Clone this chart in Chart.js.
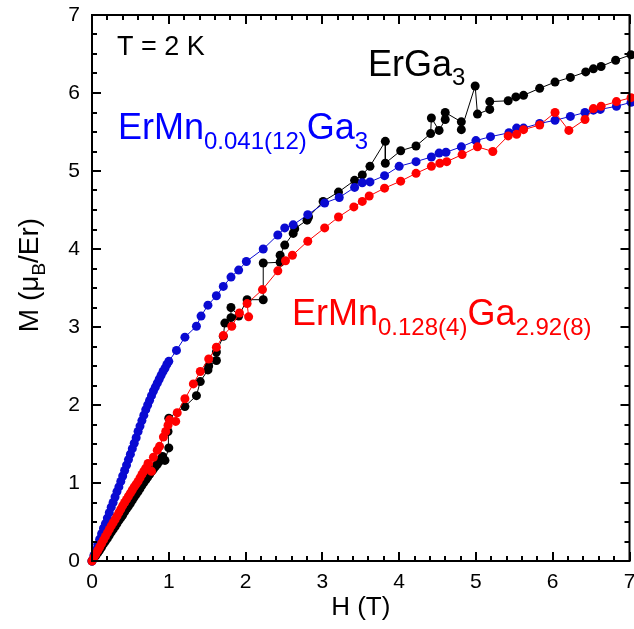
<!DOCTYPE html>
<html>
<head>
<meta charset="utf-8">
<script src="https://cdn.jsdelivr.net/npm/chart.js@4.4.1/dist/chart.umd.min.js"></script>
<style>
  html, body { margin: 0; padding: 0; background: #fff; }
  #wrap { width: 634px; height: 629px; }
</style>
</head>
<body>
<div id="wrap"><canvas id="chart" width="634" height="629"></canvas></div>
<script>
// Valeurs : H (T) et M (µB/Er) à T = 2 K
const blueH = [0,0.025,0.05,0.075,0.1,0.125,0.15,0.175,0.2,0.225,0.25,0.275,0.3,0.325,0.35,0.375,0.4,0.425,0.45,0.475,0.5,0.525,0.55,0.575,0.6,0.625,0.65,0.675,0.7,0.725,0.75,0.775,0.8,0.825,0.85,0.875,0.9,0.925,0.95,0.975,1.0,
  1.1,1.21,1.36,1.42,1.51,1.62,1.71,1.81,1.91,2.01,2.23,2.42,2.51,2.62,2.81,3.03,3.22,3.42,3.52,3.62,3.81,4.0,4.22,4.42,4.52,4.61,4.81,5.0,5.19,5.43,5.53,5.62,5.83,6.03,6.23,6.42,6.53,6.62,6.83,7.02];
const blueM = [0,0.07,0.14,0.21,0.28,0.35,0.42,0.48,0.55,0.62,0.69,0.75,0.82,0.89,0.95,1.02,1.09,1.16,1.23,1.30,1.37,1.44,1.51,1.58,1.66,1.73,1.80,1.87,1.94,2.00,2.06,2.12,2.18,2.23,2.28,2.33,2.38,2.43,2.47,2.52,2.56,
  2.70,2.87,3.01,3.14,3.28,3.40,3.52,3.64,3.73,3.84,4.00,4.18,4.27,4.31,4.44,4.59,4.66,4.79,4.85,4.86,4.94,5.06,5.12,5.18,5.23,5.24,5.31,5.39,5.44,5.49,5.55,5.55,5.61,5.65,5.70,5.75,5.78,5.79,5.83,5.88];

const blackH = [0,0.025,0.05,0.075,0.1,0.125,0.15,0.175,0.2,0.225,0.25,0.275,0.3,0.325,0.35,0.375,0.4,0.425,0.45,0.475,0.5,0.525,0.55,0.575,0.6,0.625,0.65,0.675,0.7,0.725,0.75,0.775,0.8,0.825,0.85,0.875,0.9,
  0.92,0.95,1.0,0.99,1.0,
  1.21,1.36,1.41,1.51,1.52,1.62,1.62,1.71,1.73,1.81,1.81,1.91,2.02,2.23,2.23,2.45,2.45,2.51,2.62,2.64,2.80,2.82,
  3.01,3.21,3.42,3.52,3.62,3.82,3.82,4.02,4.22,4.41,4.42,4.52,4.60,4.60,4.81,4.81,4.99,5.02,5.18,5.18,5.42,5.52,5.62,5.83,6.03,6.23,6.43,6.53,6.63,6.82,7.02];
const blackM = [0,0.035,0.07,0.105,0.14,0.18,0.22,0.255,0.29,0.33,0.37,0.405,0.44,0.48,0.52,0.555,0.59,0.63,0.67,0.705,0.74,0.78,0.82,0.855,0.89,0.93,0.97,1.005,1.04,1.075,1.11,1.145,1.18,1.21,1.24,1.275,1.31,
  1.34,1.29,1.45,1.66,1.83,
  1.98,2.12,2.30,2.45,2.50,2.57,2.68,2.88,3.05,3.12,3.25,3.14,3.35,3.35,3.82,3.83,3.92,4.05,4.20,4.26,4.37,4.41,
  4.61,4.73,4.88,4.95,5.06,5.38,5.10,5.26,5.32,5.48,5.68,5.52,5.66,5.75,5.63,5.53,6.09,5.73,5.79,5.89,5.90,5.95,5.97,6.06,6.14,6.20,6.27,6.31,6.34,6.42,6.49];

const redH = [0,0.025,0.05,0.075,0.1,0.125,0.15,0.175,0.2,0.225,0.25,0.275,0.3,0.325,0.35,0.375,0.4,0.425,0.45,0.475,0.5,0.525,0.55,0.575,0.6,0.625,0.65,0.675,0.7,
  0.73,0.775,0.8,0.85,0.88,0.93,0.96,0.99,1.01,1.09,1.11,
  1.21,1.32,1.41,1.52,1.62,1.71,1.82,1.92,2.04,2.02,2.22,2.42,2.52,2.61,2.81,3.03,3.21,3.41,3.52,3.61,3.81,
  4.02,4.22,4.42,4.53,4.62,4.82,5.02,5.22,5.42,5.53,5.62,5.83,6.03,6.21,6.42,6.53,6.63,6.83,7.02];
const redM = [0,0.045,0.09,0.135,0.18,0.225,0.27,0.315,0.36,0.405,0.45,0.49,0.53,0.575,0.62,0.665,0.71,0.75,0.79,0.83,0.87,0.91,0.95,0.985,1.02,1.065,1.11,1.15,1.19,
  1.25,1.15,1.33,1.42,1.47,1.59,1.66,1.74,1.81,1.79,1.90,
  2.08,2.27,2.43,2.59,2.74,2.89,3.01,3.18,3.13,3.30,3.48,3.72,3.85,3.92,4.10,4.27,4.41,4.54,4.61,4.68,4.78,
  4.87,4.97,5.06,5.10,5.12,5.21,5.31,5.25,5.45,5.47,5.53,5.59,5.75,5.52,5.66,5.80,5.83,5.89,5.94];

const xTicks = [0, 1, 2, 3, 4, 5, 6, 7];
const yTicks = [0, 1, 2, 3, 4, 5, 6, 7];
const xMinorPerMajor = 5;   // pas 0.2 T
const yMinorPerMajor = 4;   // pas 0.25

const FONT = '"Liberation Sans", Arial, sans-serif';
const toXY = (hs, ms) => hs.map((h, i) => ({ x: h, y: ms[i] }));

function series(label, hs, ms, color, order) {
  return {
    label, data: toXY(hs, ms), order,
    borderColor: color, borderWidth: 1,
    pointRadius: 4.5, pointHoverRadius: 4.5,
    pointBackgroundColor: color, pointBorderWidth: 0,
    tension: 0, fill: false, clip: false,
  };
}

// texte avec indices (segments [texte, indice?])
function drawRich(ctx, x, y, parts, size, subSize, subDrop, color) {
  ctx.fillStyle = color;
  ctx.textBaseline = 'alphabetic';
  ctx.textAlign = 'left';
  parts.forEach(([t, sub]) => {
    ctx.font = (sub ? subSize : size) + 'px ' + FONT;
    ctx.fillText(t, x, sub ? y + subDrop : y);
    x += ctx.measureText(t).width;
  });
}

const framePlugin = {
  id: 'frame',
  afterDatasetsDraw(chart) {
    const { ctx, chartArea: a, scales: { x, y } } = chart;
    ctx.save();
    ctx.strokeStyle = '#000';
    ctx.lineWidth = 2;
    ctx.strokeRect(a.left, a.top, a.right - a.left, a.bottom - a.top);
    ctx.beginPath();
    for (let i = 0; i < xTicks.length; i++) {
      for (let k = 0; k < xMinorPerMajor; k++) {
        if (i === xTicks.length - 1 && k > 0) break;
        const v = xTicks[i] + k / xMinorPerMajor;
        const px = Math.round(x.getPixelForValue(v));
        const len = k === 0 ? 9 : 5;
        ctx.moveTo(px, a.bottom); ctx.lineTo(px, a.bottom - len);
        ctx.moveTo(px, a.top); ctx.lineTo(px, a.top + len);
      }
    }
    for (let i = 0; i < yTicks.length; i++) {
      for (let k = 0; k < yMinorPerMajor; k++) {
        if (i === yTicks.length - 1 && k > 0) break;
        const v = yTicks[i] + k / yMinorPerMajor;
        const py = Math.round(y.getPixelForValue(v));
        const len = k === 0 ? 9 : 5;
        ctx.moveTo(a.left, py); ctx.lineTo(a.left + len, py);
        ctx.moveTo(a.right, py); ctx.lineTo(a.right - len, py);
      }
    }
    ctx.stroke();
    ctx.restore();
  },
  afterDraw(chart) {
    const { ctx, chartArea: a } = chart;
    ctx.save();
    // titres des axes
    ctx.fillStyle = '#000';
    ctx.font = '26px ' + FONT;
    ctx.textAlign = 'center';
    ctx.textBaseline = 'alphabetic';
    ctx.fillText('H (T)', (a.left + a.right) / 2, 615);

    ctx.save();
    ctx.translate(38, 275);
    ctx.rotate(-Math.PI / 2);
    ctx.font = '28px ' + FONT;
    const p1 = 'M (\u03BC', p2 = 'B', p3 = '/Er)';
    const w1 = ctx.measureText(p1).width, w3 = ctx.measureText(p3).width;
    ctx.font = '19px ' + FONT;
    const w2 = ctx.measureText(p2).width;
    drawRich(ctx, -(w1 + w2 + w3) / 2, 0, [[p1], [p2, true], [p3]], 28, 19, 7, '#000');
    ctx.restore();

    // annotations
    drawRich(ctx, 117, 55, [['T = 2 K']], 27, 18, 0, '#000');
    drawRich(ctx, 368, 76, [['ErGa'], ['3', true]], 36, 24, 9, '#000');
    drawRich(ctx, 118, 139, [['ErMn'], ['0.041(12)', true], ['Ga'], ['3', true]], 36, 24, 10, '#0000ff');
    drawRich(ctx, 292, 325, [['ErMn'], ['0.128(4)', true], ['Ga'], ['2.92(8)', true]], 36, 24, 10, '#ff0000');
    ctx.restore();
  },
};

const fixAxis = (size, horiz) => s => {
  if (horiz) s.height = size; else s.width = size;
  s.paddingLeft = 0; s.paddingRight = 0; s.paddingTop = 0; s.paddingBottom = 0;
};

new Chart(document.getElementById('chart'), {
  type: 'line',
  data: {
    datasets: [
      series('ErGa3', blackH, blackM, '#000000', 3),
      series('ErMn0.041(12)Ga3', blueH, blueM, '#0a0ad2', 2),
      series('ErMn0.128(4)Ga2.92(8)', redH, redM, '#ff0000', 1),
    ],
  },
  options: {
    responsive: false,
    animation: false,
    events: [],
    layout: { padding: { left: 0, top: 15, right: 2, bottom: 0 } },
    plugins: { legend: { display: false }, tooltip: { enabled: false } },
    scales: {
      x: {
        type: 'linear', min: 0, max: 7,
        afterBuildTicks: s => { s.ticks = xTicks.map(v => ({ value: v })); },
        grid: { display: false, drawTicks: false },
        border: { display: false },
        ticks: { color: '#000', font: { family: FONT, size: 21 }, padding: 9, maxRotation: 0, autoSkip: false },
        afterFit: fixAxis(68, true),
      },
      y: {
        type: 'linear', min: 0, max: 7,
        afterBuildTicks: s => { s.ticks = yTicks.map(v => ({ value: v })); },
        grid: { display: false, drawTicks: false },
        border: { display: false },
        ticks: { color: '#000', font: { family: FONT, size: 21 }, padding: 12, autoSkip: false },
        afterFit: fixAxis(92, false),
      },
    },
  },
  plugins: [framePlugin],
});
</script>
</body>
</html>
